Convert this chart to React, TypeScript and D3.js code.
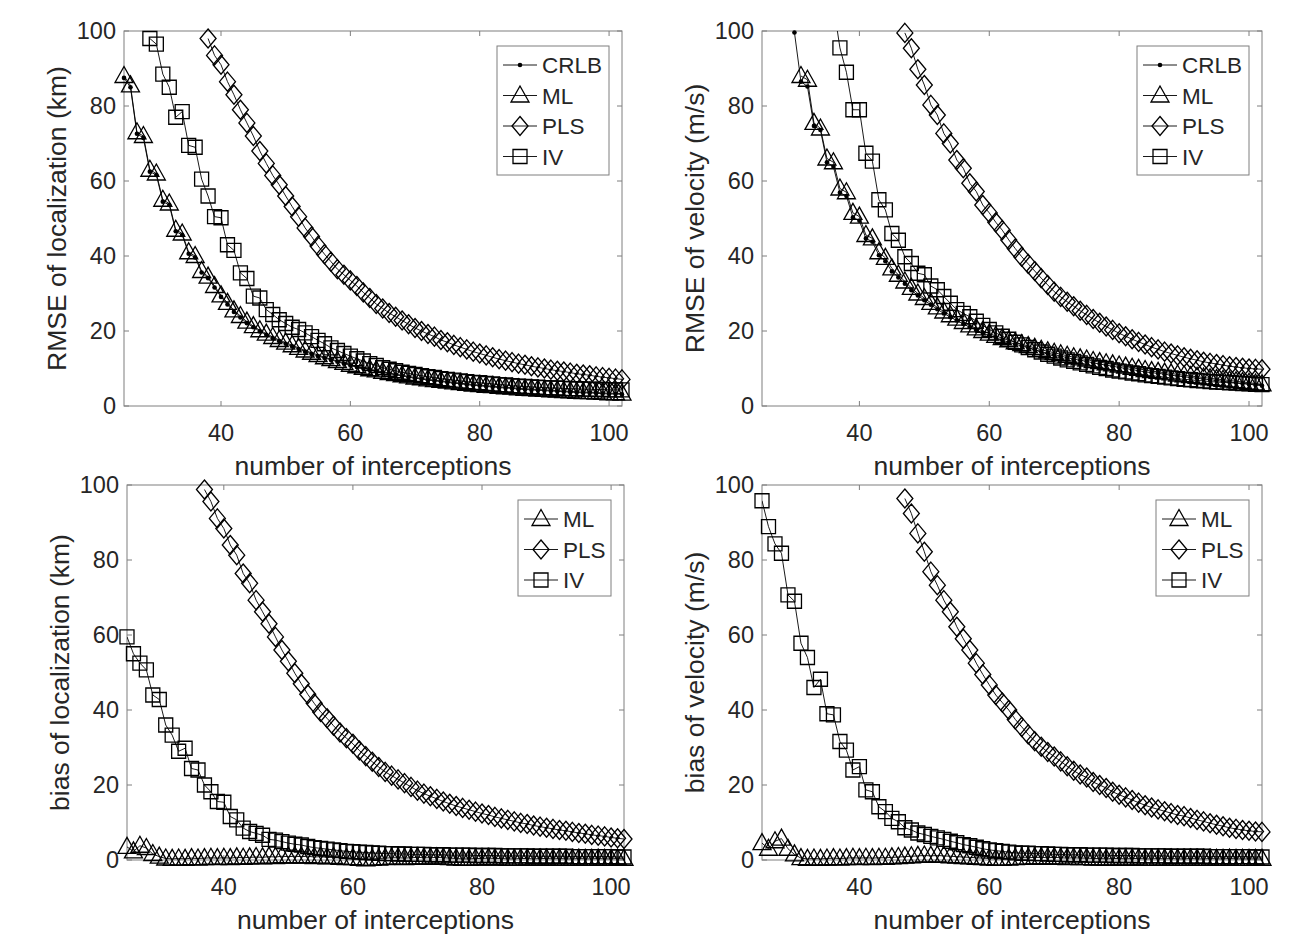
import React from 'react';
import * as d3 from 'd3';

// x runs over 25..102 interceptions, one value per integer; null = not shown
const xFirst = 25;
const xLast = 102;
const xTicks = [40, 60, 80, 100];
const yTicks = [0, 20, 40, 60, 80, 100];
const N = null;

// RMSE of localization (km)
const rmseLocCRLB = [
  87.5, 85, 72.6, 71.5, 62.5, 61.6, 54.5, 53.6, 46.6, 45.6,
  40.6, 39.6, 35.6, 34.1, 31.6, 29.1, 27.1, 25.1, 23.6, 22.1,
  21, 19.9, 19, 18.1, 17.3, 16.6, 15.9, 15.2, 14.5, 13.9,
  13.3, 12.8, 12.3, 11.8, 11.3, 10.8, 10.4, 10, 9.6, 9.3,
  8.9, 8.6, 8.3, 8, 7.7, 7.4, 7.2, 6.9, 6.7, 6.5,
  6.3, 6.1, 5.9, 5.7, 5.5, 5.4, 5.2, 5.1, 4.9, 4.8,
  4.7, 4.5, 4.4, 4.3, 4.2, 4.1, 4, 3.9, 3.8, 3.7,
  3.6, 3.5, 3.5, 3.4, 3.3, 3.2, 3.2, 3.1,
];
const rmseLocML = [
  88, 85.5, 73, 72, 63, 62, 55, 54, 47, 46,
  41, 40, 36, 34.5, 32, 29.5, 27.5, 25.5, 24, 22.5,
  21.3, 20.2, 19.3, 18.4, 17.6, 16.9, 16.2, 15.5, 14.8, 14.2,
  13.6, 13, 12.5, 12, 11.5, 11, 10.6, 10.2, 9.8, 9.5,
  9.1, 8.8, 8.5, 8.2, 7.9, 7.6, 7.4, 7.1, 6.9, 6.7,
  6.5, 6.3, 6.1, 5.9, 5.7, 5.6, 5.4, 5.3, 5.1, 5,
  4.9, 4.7, 4.6, 4.5, 4.4, 4.3, 4.2, 4.1, 4, 3.9,
  3.8, 3.7, 3.7, 3.6, 3.5, 3.4, 3.4, 3.3,
];
const rmseLocPLS = [
  N, N, N, N, N, N, N, N, N, N,
  N, N, N, 98, 93.5, 91, 86.5, 83, 79, 75.5,
  72, 68, 64.7, 61.5, 59, 56, 53.2, 50.5, 47.5, 45.2,
  42.7, 40.5, 38.5, 36.5, 35, 33.5, 32, 30.3, 28.8, 27.2,
  26, 24.8, 23.8, 22.8, 21.8, 20.8, 20, 19.2, 18.5, 17.6,
  17, 16.3, 15.7, 15.1, 14.5, 14, 13.5, 13, 12.5, 12.1,
  11.7, 11.3, 11, 10.6, 10.3, 10, 9.7, 9.4, 9.2, 8.9,
  8.6, 8.4, 8.2, 7.9, 7.7, 7.5, 7.3, 7.1,
];
const rmseLocIV = [
  N, N, N, N, 98, 96.5, 88.5, 85, 77, 78.5,
  69.5, 69, 60.5, 56, 50.5, 50.2, 43, 41.5, 35.5, 34,
  29.3, 28.8, 25.7, 24.4, 23, 22, 21, 20.4, 19.5, 18.5,
  17.5, 16.6, 15.5, 14.8, 14, 13.3, 12.6, 12, 11.3, 10.8,
  10.2, 9.8, 9.4, 9, 8.7, 8.4, 8.1, 7.8, 7.6, 7.3,
  7.1, 6.9, 6.7, 6.5, 6.3, 6.2, 6, 5.9, 5.7, 5.6,
  5.4, 5.3, 5.2, 5.1, 5, 4.9, 4.8, 4.8, 4.7, 4.6,
  4.6, 4.5, 4.5, 4.4, 4.4, 4.3, 4.3, 4.3,
];

// RMSE of velocity (m/s)
const rmseVelCRLB = [
  N, N, N, N, N, 99.6, 86.5, 85.2, 74.7, 73.6,
  65, 63.8, 56.9, 56, 50.3, 49.4, 44.7, 43.8, 40.2, 38.6,
  35.9, 34.3, 32.6, 30.9, 29.5, 28.2, 27, 25.8, 24.7, 23.7,
  22.8, 21.9, 21, 20.2, 19.5, 18.8, 18.2, 17.6, 17, 16.5,
  16, 15.5, 15, 14.5, 14.1, 13.7, 13.3, 12.9, 12.5, 12.2,
  11.9, 11.5, 11.2, 10.9, 10.6, 10.3, 10, 9.7, 9.4, 9.1,
  8.9, 8.7, 8.5, 8.2, 8, 7.8, 7.6, 7.4, 7.2, 7,
  6.8, 6.6, 6.4, 6.2, 6, 5.8, 5.6, 5.4,
];
const rmseVelML = [
  N, N, N, N, N, N, 88, 87, 75.5, 74,
  66, 65, 58, 57, 51.5, 50.5, 45.6, 44.7, 41, 39.5,
  36.7, 35, 33.2, 31.5, 30, 28.8, 27.5, 26.3, 25.2, 24.2,
  23.3, 22.4, 21.5, 20.7, 20, 19.3, 18.7, 18.1, 17.5, 17,
  16.5, 16, 15.5, 15, 14.6, 14.2, 13.8, 13.4, 13, 12.7,
  12.4, 12, 11.7, 11.4, 11.1, 10.8, 10.5, 10.2, 9.9, 9.6,
  9.3, 9.1, 8.9, 8.7, 8.4, 8.2, 8, 7.8, 7.6, 7.4,
  7.2, 7, 6.8, 6.6, 6.4, 6.2, 6, 5.8,
];
const rmseVelPLS = [
  N, N, N, N, N, N, N, N, N, N,
  N, N, N, N, N, N, N, N, N, N,
  N, N, 99.5, 95.4, 89.8, 85.6, 80.3, 77.6, 72.7, 70,
  65.6, 63.4, 59.4, 57.2, 53.6, 51.5, 49, 46.9, 44.3, 42,
  39.8, 37.9, 36, 34.1, 32.3, 30.5, 29.1, 27.8, 26.6, 25.4,
  24.3, 23.2, 22.2, 21.2, 20.3, 19.4, 18.6, 17.8, 17.1, 16.4,
  15.7, 15.1, 14.5, 14, 13.5, 13, 12.6, 12.2, 11.8, 11.5,
  11.2, 10.9, 10.6, 10.4, 10.2, 10, 9.9, 9.8,
];
const rmseVelIV = [
  N, N, N, N, N, N, N, N, N, N,
  N, 107, 95.5, 89, 79, 79, 67.4, 65.3, 55, 52.3,
  46, 44.2, 39.8, 38, 35.4, 35, 32, 31, 29.2, 27.4,
  25.7, 24.7, 23.8, 22.6, 21.5, 20.4, 19.5, 18.6, 17.8, 17,
  16.3, 15.6, 15, 14.4, 13.8, 13.3, 12.8, 12.3, 11.9, 11.5,
  11.1, 10.7, 10.3, 10, 9.6, 9.3, 9.1, 8.8, 8.6, 8.3,
  8.1, 7.9, 7.7, 7.5, 7.3, 7.1, 7, 6.8, 6.7, 6.5,
  6.4, 6.3, 6.2, 6.1, 6, 5.9, 5.8, 5.7,
];

// bias of localization (km)
const biasLocML = [
  3.5, 2.3, 3.8, 3.2, 1.6, 0.9, 0.4, 0.3, 0.4, 0.3,
  0.5, 0.4, 0.5, 0.6, 0.5, 0.6, 0.5, 0.7, 0.6, 0.7,
  0.8, 0.7, 0.9, 0.8, 1, 0.9, 1, 0.9, 1, 0.8,
  0.9, 0.7, 0.8, 0.6, 0.5, 0.5, 0.3, 0.2, 0.3, 0.4,
  0.5, 0.6, 0.6, 0.5, 0.6, 0.7, 0.6, 0.6, 0.7, 0.6,
  0.5, 0.4, 0.3, 0.3, 0.4, 0.4, 0.5, 0.4, 0.4, 0.3,
  0.3, 0.4, 0.4, 0.3, 0.4, 0.4, 0.3, 0.4, 0.3, 0.3,
  0.4, 0.3, 0.3, 0.4, 0.3, 0.3, 0.4, 0.3,
];
const biasLocPLS = [
  N, N, N, N, N, N, N, N, N, N,
  N, N, 98.8, 95.6, 91.1, 88.4, 84, 81.3, 76.4, 73.8,
  69.3, 66.2, 63, 59.5, 56, 53, 49.8, 47, 44.2, 41.8,
  39.5, 37.8, 35.8, 34, 32.5, 31, 29.2, 27.7, 26.2, 24.8,
  23.5, 22.5, 21.5, 20.5, 19.5, 18.5, 17.7, 17, 16.3, 15.6,
  15, 14.4, 13.9, 13.4, 12.9, 12.4, 12, 11.5, 11.1, 10.7,
  10.3, 9.9, 9.6, 9.2, 8.9, 8.6, 8.3, 8, 7.8, 7.5,
  7.2, 7, 6.7, 6.5, 6.3, 6, 5.8, 5.6,
];
const biasLocIV = [
  59.5, 55, 52.5, 50.7, 44, 42.8, 36, 33.3, 29, 29.8,
  24.4, 24, 20, 18.2, 15.6, 15.4, 11.6, 10.7, 8.5, 7.6,
  7.1, 6.6, 5.5, 5.3, 4.9, 4.5, 4.2, 4, 3.6, 3.3,
  3.1, 2.9, 2.7, 2.5, 2.3, 2.2, 2.1, 2, 1.9, 1.8,
  1.7, 1.7, 1.6, 1.6, 1.5, 1.5, 1.5, 1.4, 1.4, 1.4,
  1.3, 1.3, 1.3, 1.3, 1.2, 1.2, 1.2, 1.2, 1.1, 1.1,
  1.1, 1.1, 1.1, 1, 1, 1, 1, 1, 1, 0.9,
  0.9, 0.9, 0.9, 0.9, 0.9, 0.9, 0.8, 0.8,
];

// bias of velocity (m/s)
const biasVelML = [
  4.5, 3, 5, 5.7, 3, 1.5, 0.5, 0.3, 0.4, 0.3,
  0.4, 0.5, 0.4, 0.5, 0.6, 0.5, 0.6, 0.5, 0.6, 0.6,
  0.7, 0.8, 0.9, 1, 1.1, 1.2, 1.1, 1.2, 1.1, 1,
  0.9, 0.8, 0.7, 0.6, 0.5, 0.4, 0.3, 0.3, 0.4, 0.5,
  0.6, 0.6, 0.7, 0.7, 0.6, 0.7, 0.6, 0.5, 0.6, 0.5,
  0.5, 0.4, 0.4, 0.3, 0.4, 0.4, 0.3, 0.4, 0.4, 0.3,
  0.3, 0.4, 0.3, 0.4, 0.3, 0.3, 0.4, 0.3, 0.3, 0.4,
  0.3, 0.3, 0.4, 0.3, 0.3, 0.3, 0.3, 0.3,
];
const biasVelPLS = [
  N, N, N, N, N, N, N, N, N, N,
  N, N, N, N, N, N, N, N, N, N,
  N, N, 96.4, 92.4, 87.1, 82.2, 76.9, 73.3, 69.3, 66.2,
  62.2, 59, 56, 52.5, 49.5, 46.7, 44, 42, 40, 37.5,
  35.5, 33.5, 31.7, 30.2, 28.8, 27.6, 26.3, 25, 23.8, 22.8,
  22, 20.8, 20, 19.2, 18.2, 17.4, 16.7, 16, 15.3, 14.6,
  14, 13.5, 13, 12.5, 12, 11.7, 11.2, 10.7, 10.3, 9.8,
  9.4, 9, 8.6, 8.3, 8, 7.8, 7.6, 7.5,
];
const biasVelIV = [
  95.8, 88.9, 84.3, 81.8, 70.7, 69, 57.8, 54, 46, 48.2,
  39, 38.7, 31.6, 29.3, 24, 24.9, 18.7, 18.2, 14.2, 12.9,
  11.1, 10.2, 8.6, 8, 7.2, 6.8, 6.3, 5.9, 5.5, 5,
  4.6, 4.1, 3.8, 3.4, 3, 2.7, 2.5, 2.3, 2.1, 1.9,
  1.8, 1.8, 1.7, 1.7, 1.6, 1.5, 1.5, 1.4, 1.4, 1.4,
  1.3, 1.3, 1.3, 1.3, 1.2, 1.2, 1.2, 1.2, 1.1, 1.1,
  1.1, 1.1, 1.1, 1, 1, 1, 1, 1, 1, 0.9,
  0.9, 0.9, 0.9, 0.9, 0.9, 0.9, 0.8, 0.8,
];

type Mark = 'dot' | 'tri' | 'dia' | 'sq';
type Series = { name: string; mark: Mark; values: (number | null)[] };

const panels = [
  {
    id: 'tl', left: 124, top: 31, width: 498, height: 375,
    ylabel: 'RMSE of localization (km)',
    series: [
      { name: 'CRLB', mark: 'dot', values: rmseLocCRLB },
      { name: 'ML', mark: 'tri', values: rmseLocML },
      { name: 'PLS', mark: 'dia', values: rmseLocPLS },
      { name: 'IV', mark: 'sq', values: rmseLocIV },
    ] as Series[],
  },
  {
    id: 'tr', left: 762, top: 31, width: 500, height: 375,
    ylabel: 'RMSE of velocity (m/s)',
    series: [
      { name: 'CRLB', mark: 'dot', values: rmseVelCRLB },
      { name: 'ML', mark: 'tri', values: rmseVelML },
      { name: 'PLS', mark: 'dia', values: rmseVelPLS },
      { name: 'IV', mark: 'sq', values: rmseVelIV },
    ] as Series[],
  },
  {
    id: 'bl', left: 127, top: 485, width: 497, height: 375,
    ylabel: 'bias of localization (km)',
    series: [
      { name: 'ML', mark: 'tri', values: biasLocML },
      { name: 'PLS', mark: 'dia', values: biasLocPLS },
      { name: 'IV', mark: 'sq', values: biasLocIV },
    ] as Series[],
  },
  {
    id: 'br', left: 762, top: 485, width: 500, height: 375,
    ylabel: 'bias of velocity (m/s)',
    series: [
      { name: 'ML', mark: 'tri', values: biasVelML },
      { name: 'PLS', mark: 'dia', values: biasVelPLS },
      { name: 'IV', mark: 'sq', values: biasVelIV },
    ] as Series[],
  },
];

const xs = d3.range(xFirst, xLast + 1);
const FONT = '"Liberation Sans", Arial, Helvetica, sans-serif';
const TEXT = '#262626';
const AXIS = '#7f7f7f';

const markPath: Record<string, string> = {
  tri: 'M0,-9.5L9,6.5L-9,6.5Z',
  dia: 'M0,-9.5L8,0L0,9.5L-8,0Z',
  sq: 'M-7,-7h14v14h-14Z',
};

const Marker = ({ mark, x, y }: { mark: Mark; x: number; y: number }) =>
  mark === 'dot' ? (
    <circle cx={x} cy={y} r={2.3} fill="#000" />
  ) : (
    <path d={markPath[mark]} transform={`translate(${x},${y})`} fill="none" stroke="#000" strokeWidth={1.3} />
  );

const Panel = ({ p }: { p: (typeof panels)[number] }) => {
  const x = d3.scaleLinear().domain([xFirst, xLast]).range([p.left, p.left + p.width]);
  const y = d3.scaleLinear().domain([0, 100]).range([p.top + p.height, p.top]);
  const line = d3
    .line<number | null>()
    .defined((d) => d !== null)
    .x((_, i) => x(xs[i]))
    .y((d) => y(d as number));
  const bottom = p.top + p.height;
  const right = p.left + p.width;
  const tickLen = 5;

  const legW = p.series.length === 4 ? 112 : 93;
  const legH = p.series.length === 4 ? 129 : 96;
  const legX = right - 13 - legW;
  const legY = p.top + 15;

  return (
    <g>
      <clipPath id={`clip-${p.id}`}>
        <rect x={p.left} y={p.top} width={p.width} height={p.height} />
      </clipPath>
      {/* ticks on all four sides, pointing inward */}
      {xTicks.map((t) => (
        <g key={`x${t}`}>
          <line x1={x(t)} x2={x(t)} y1={bottom} y2={bottom - tickLen} stroke={AXIS} />
          <line x1={x(t)} x2={x(t)} y1={p.top} y2={p.top + tickLen} stroke={AXIS} />
          <text x={x(t)} y={bottom + 35} textAnchor="middle" fontSize={23.5} fill={TEXT}>{t}</text>
        </g>
      ))}
      {yTicks.map((t) => (
        <g key={`y${t}`}>
          <line x1={p.left} x2={p.left + tickLen} y1={y(t)} y2={y(t)} stroke={AXIS} />
          <line x1={right} x2={right - tickLen} y1={y(t)} y2={y(t)} stroke={AXIS} />
          <text x={p.left - 8} y={y(t)} dy="0.36em" textAnchor="end" fontSize={23.5} fill={TEXT}>{t}</text>
        </g>
      ))}
      <rect x={p.left} y={p.top} width={p.width} height={p.height} fill="none" stroke={AXIS} strokeWidth={1} />
      <text x={(p.left + right) / 2} y={bottom + 69} textAnchor="middle" fontSize={26.5} fill={TEXT}>
        number of interceptions
      </text>
      <text
        transform={`translate(${p.left - 58},${(p.top + bottom) / 2}) rotate(-90)`}
        textAnchor="middle"
        fontSize={26.5}
        fill={TEXT}
      >
        {p.ylabel}
      </text>

      {p.series.map((s) => (
        <g key={s.name}>
          <path d={line(s.values) || ''} fill="none" stroke="#000" strokeWidth={0.9} clipPath={`url(#clip-${p.id})`} />
          {s.values.map((v, i) =>
            v !== null && v <= 100 ? <Marker key={i} mark={s.mark} x={x(xs[i])} y={y(v)} /> : null
          )}
        </g>
      ))}

      <rect x={legX} y={legY} width={legW} height={legH} fill="#fff" stroke={AXIS} strokeWidth={1} />
      {p.series.map((s, i) => {
        const ry = legY + 19 + i * 30.5;
        return (
          <g key={`leg${s.name}`}>
            <line x1={legX + 6} x2={legX + 40} y1={ry} y2={ry} stroke="#000" strokeWidth={0.9} />
            <Marker mark={s.mark} x={legX + 23} y={ry} />
            <text x={legX + 45} y={ry} dy="0.36em" fontSize={22.5} fill={TEXT}>{s.name}</text>
          </g>
        );
      })}
    </g>
  );
};

export default function App() {
  return (
    <svg width={1308} height={935} style={{ display: 'block', position: 'absolute', left: 0, top: 0, background: '#fff' }} fontFamily={FONT}>
      <rect width={1308} height={935} fill="#fff" />
      {panels.map((p) => (
        <Panel key={p.id} p={p} />
      ))}
    </svg>
  );
}
